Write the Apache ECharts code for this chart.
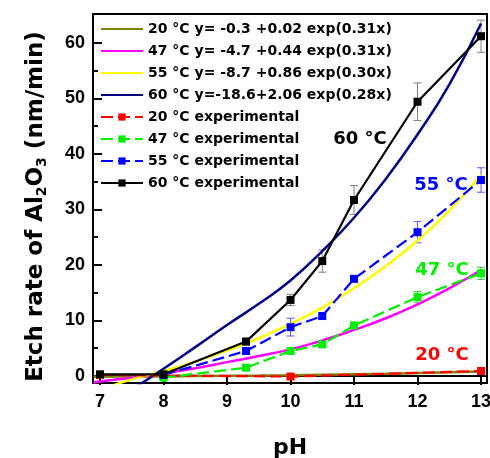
<!DOCTYPE html>
<html><head><meta charset="utf-8">
<script src="https://cdn.jsdelivr.net/npm/echarts@6/dist/echarts.min.js"></script>
<style>html,body{margin:0;padding:0;background:#fff}#c{width:490px;height:458px}</style>
</head><body><div id="c"></div>
<script>
// ---- data ----
const X_TICKS = [7, 8, 9, 10, 11, 12, 13];
const Y_TICKS = [0, 10, 20, 30, 40, 50, 60];
const Y_MINOR = [5, 15, 25, 35, 45, 55];

const FIT_PH  = [6.9, 7, 7.5, 8, 8.5, 9, 9.5, 10, 10.5, 11, 11.5, 12, 12.5, 13];
const FIT_20  = [-0.15, -0.13, -0.09, -0.05, -0.01, 0.03, 0.08, 0.14, 0.21, 0.3, 0.4, 0.52, 0.66, 0.82];
const FIT_47  = [-1.2, -1.0, -0.3, 0.5, 1.4, 2.5, 3.6, 4.8, 6.4, 8.3, 10.4, 12.9, 15.8, 19.1];
const FIT_55  = [-3.0, -2.5, -0.6, 0.9, 2.6, 4.6, 6.8, 9.4, 12.3, 15.8, 19.8, 24.4, 29.8, 36.2];
const FIT_60  = [-5.4, -4.8, -2.3, 1.3, 5.2, 9.2, 13.0, 17.2, 22.5, 28.5, 35.5, 43.5, 52.5, 63.5];

const RED_PH   = [7, 10, 13];
const RED      = [0.2, -0.1, 0.9];
const RED_ERR  = [0.2, 0.4, 0.4];
const GREEN_PH = [8, 9.3, 10, 10.5, 11, 12, 13];
const GREEN    = [-0.3, 1.5, 4.5, 5.7, 9.1, 14.2, 18.5];
const GREEN_ERR= [0.3, 0.3, 0.4, 0.4, 0.4, 1.0, 1.1];
const BLUE_PH  = [8, 9.3, 10, 10.5, 11, 12, 13];
const BLUE     = [0.2, 4.5, 8.8, 10.8, 17.5, 25.9, 35.3];
const BLUE_ERR = [0.3, 0.5, 1.6, 0.5, 0.5, 1.9, 2.2];
const BLACK_PH = [7, 8, 9.3, 10, 10.5, 11, 12, 13];
const BLACK    = [0.3, 0.3, 6.2, 13.7, 20.7, 31.7, 49.4, 61.2];
const BLACK_ERR= [0.2, 0.2, 0.6, 1.0, 2.0, 2.6, 3.4, 2.9];

const NAMES = [
  '20 \u00B0C y= -0.3 +0.02 exp(0.31x)',
  '47 \u00B0C y= -4.7 +0.44 exp(0.31x)',
  '55 \u00B0C y= -8.7 +0.86 exp(0.30x)',
  '60 \u00B0C y=-18.6+2.06 exp(0.28x)',
  '20 \u00B0C experimental',
  '47 \u00B0C experimental',
  '55 \u00B0C experimental',
  '60 \u00B0C experimental'
];

// ---- build ----
const zip = (xs, ys) => xs.map((x, i) => [x, ys[i]]);
const zip3 = (xs, ys, es) => xs.map((x, i) => [x, ys[i], es[i]]);

function fitSeries(name, vals, color) {
  return { name, type: 'line', data: zip(FIT_PH, vals), smooth: true, symbol: 'none',
    lineStyle: { color, width: 2.5 }, itemStyle: { color }, z: 3 };
}
function expSeries(name, xs, ys, color, dashed) {
  return { name, type: 'line', data: zip(xs, ys), symbol: 'rect', symbolSize: 8, showSymbol: true,
    lineStyle: { color, width: 2.2, type: dashed ? [12, 5] : 'solid' }, itemStyle: { color }, z: 4 };
}
function errSeries(xs, ys, es, color) {
  return { type: 'custom', data: zip3(xs, ys, es), z: 2, silent: true,
    renderItem(params, api) {
      const x = api.value(0), y = api.value(1), e = api.value(2);
      const t = api.coord([x, y + e]), b = api.coord([x, y - e]);
      const st = { stroke: color, lineWidth: 1 };
      return { type: 'group', children: [
        { type: 'line', shape: { x1: t[0], y1: t[1], x2: b[0], y2: b[1] }, style: st },
        { type: 'line', shape: { x1: t[0] - 4, y1: t[1], x2: t[0] + 4, y2: t[1] }, style: st },
        { type: 'line', shape: { x1: b[0] - 4, y1: b[1], x2: b[0] + 4, y2: b[1] }, style: st }
      ]};
    } };
}

const chart = echarts.init(document.getElementById('c'), null, { renderer: 'canvas' });
const tickFont = { fontFamily: 'Liberation Sans', fontWeight: 'bold', fontSize: 18, color: '#000' };
const legendData = NAMES.map((n, i) => i < 4 ? { name: n, itemStyle: { opacity: 0 } } : { name: n });
const option = {
  animation: false,
  grid: { left: 93, right: 3, top: 14, bottom: 75, show: true, borderColor: '#000', borderWidth: 2,
    backgroundColor: 'transparent', containLabel: false, outerBoundsMode: 'none' },
  legend: {
    orient: 'vertical', left: 95, top: 17, itemWidth: 42, itemHeight: 9, itemGap: 8,
    data: legendData,
    textStyle: { fontFamily: 'DejaVu Sans', fontWeight: 'bold', fontSize: 14, color: '#000', lineHeight: 14 }
  },
  xAxis: {
    type: 'value', min: 6.89, max: 13.094,
    name: 'pH', nameLocation: 'middle', nameGap: 54,
    nameTextStyle: { fontFamily: 'DejaVu Sans', fontWeight: 'bold', fontSize: 22, color: '#000' },
    axisLine: { show: true, lineStyle: { color: '#000', width: 2 } },
    axisTick: { show: true, inside: false, length: 9, lineStyle: { color: '#000', width: 2 }, customValues: X_TICKS },
    axisLabel: Object.assign({ margin: 10, customValues: X_TICKS }, tickFont),
    splitLine: { show: false }
  },
  yAxis: [{
    type: 'value', min: -1.26, max: 65.2,
    name: 'Etch rate of Al{sub|2}O{sub|3} (nm/min)', nameLocation: 'middle', nameGap: 44,
    nameTextStyle: { fontFamily: 'DejaVu Sans', fontWeight: 'bold', fontSize: 23, color: '#000', padding: [0, 16, 0, 0],
      rich: { sub: { fontFamily: 'DejaVu Sans', fontWeight: 'bold', fontSize: 14, color: '#000', padding: [12, 0, 0, 0] } } },
    axisLine: { show: true, lineStyle: { color: '#000', width: 2 } },
    axisTick: { show: true, inside: true, length: 9, lineStyle: { color: '#000', width: 2 }, customValues: Y_TICKS },
    axisLabel: Object.assign({ margin: 8, customValues: Y_TICKS }, tickFont),
    splitLine: { show: false }
  }, {
    type: 'value', min: -1.26, max: 65.2, position: 'left',
    axisLine: { show: false },
    axisTick: { show: true, inside: true, length: 5, lineStyle: { color: '#000', width: 2 }, customValues: Y_MINOR },
    axisLabel: { show: false }, splitLine: { show: false }
  }],
  graphic: [
    { type: 'text', x: 360, y: 139, style: { text: '60 \u00B0C', font: 'bold 18px "DejaVu Sans"', fill: '#000', align: 'center', verticalAlign: 'middle' } },
    { type: 'text', x: 441, y: 185, style: { text: '55 \u00B0C', font: 'bold 18px "DejaVu Sans"', fill: '#0000ff', align: 'center', verticalAlign: 'middle' } },
    { type: 'text', x: 442, y: 270, style: { text: '47 \u00B0C', font: 'bold 18px "DejaVu Sans"', fill: '#00ee00', align: 'center', verticalAlign: 'middle' } },
    { type: 'text', x: 442, y: 355, style: { text: '20 \u00B0C', font: 'bold 18px "DejaVu Sans"', fill: '#ff0000', align: 'center', verticalAlign: 'middle' } }
  ],
  series: [
    errSeries(RED_PH, RED, RED_ERR, '#ff0000'),
    errSeries(GREEN_PH, GREEN, GREEN_ERR, '#33cc33'),
    errSeries(BLUE_PH, BLUE, BLUE_ERR, '#5a5aff'),
    errSeries(BLACK_PH, BLACK, BLACK_ERR, '#808080'),
    expSeries(NAMES[4], RED_PH, RED, '#ff0000', true),
    expSeries(NAMES[5], GREEN_PH, GREEN, '#00ee00', true),
    expSeries(NAMES[6], BLUE_PH, BLUE, '#0000ff', true),
    expSeries(NAMES[7], BLACK_PH, BLACK, '#000000', false),
    fitSeries(NAMES[0], FIT_20, '#808000'),
    fitSeries(NAMES[1], FIT_47, '#ff00ff'),
    fitSeries(NAMES[2], FIT_55, '#ffff00'),
    fitSeries(NAMES[3], FIT_60, '#000080')
  ]
};
chart.setOption(option);
</script>
</body></html>
